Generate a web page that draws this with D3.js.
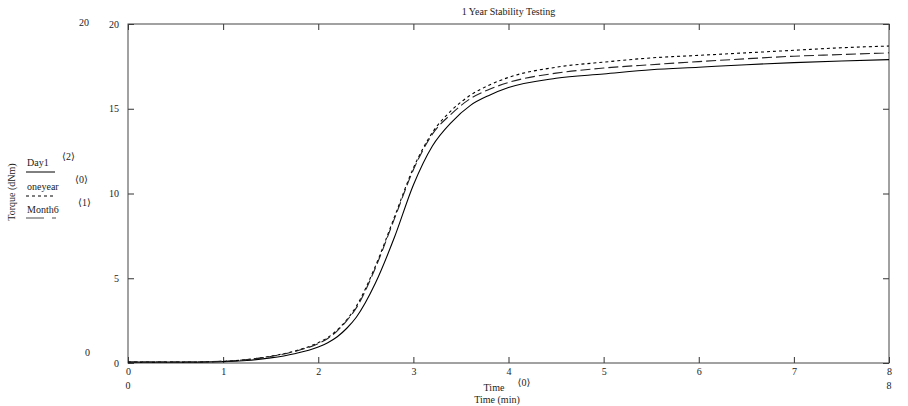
<!DOCTYPE html>
<html>
<head>
<meta charset="utf-8">
<script src="https://cdn.jsdelivr.net/npm/d3@7"></script>
<style>
  body { margin: 0; background: #fff; }
  svg text { font-family: "Liberation Serif", "DejaVu Serif", serif; font-size: 10px; fill: #222; }
</style>
</head>
<body>
<div id="chart"></div>
<script>
// time in minutes
var time = [0, 0.5, 1, 1.25, 1.5, 1.75, 2, 2.1, 2.2, 2.3, 2.4, 2.6, 2.8, 3, 3.2, 3.4, 3.6, 3.8, 4, 4.5, 5, 5.5, 6, 6.5, 7, 7.5, 8];
// torque in dNm
var day1    = [0.05, 0.05, 0.08, 0.15, 0.3, 0.55, 0.95, 1.2, 1.55, 2.05, 2.7, 4.7, 7.4, 10.5, 12.8, 14.2, 15.2, 15.8, 16.25, 16.8, 17.05, 17.3, 17.45, 17.6, 17.72, 17.82, 17.9];
var oneyear = [0.05, 0.05, 0.1, 0.2, 0.4, 0.7, 1.2, 1.5, 1.95, 2.55, 3.35, 5.7, 8.6, 11.5, 13.6, 14.9, 15.8, 16.4, 16.85, 17.45, 17.75, 18.0, 18.15, 18.3, 18.45, 18.6, 18.7];
var month6  = [0.05, 0.05, 0.1, 0.2, 0.38, 0.68, 1.15, 1.45, 1.9, 2.5, 3.25, 5.6, 8.5, 11.4, 13.5, 14.7, 15.6, 16.15, 16.55, 17.1, 17.4, 17.6, 17.78, 17.95, 18.1, 18.2, 18.3];
var xTicks = [0, 1, 2, 3, 4, 5, 6, 7, 8];
var yTicks = [0, 5, 10, 15, 20];

var width = 908, height = 406;
var plotLeft = 128, plotRight = 889, plotTop = 24, plotBottom = 363;

var svg = d3.select("#chart").append("svg")
  .attr("width", width)
  .attr("height", height);

var x = d3.scaleLinear().domain([0, 8]).range([plotLeft, plotRight]);
var y = d3.scaleLinear().domain([0, 20]).range([plotBottom, plotTop]);

// axes with inward ticks
var gx = svg.append("g")
  .attr("transform", "translate(0," + plotBottom + ")")
  .call(d3.axisBottom(x).tickValues(xTicks).tickSizeInner(-6).tickSizeOuter(0).tickPadding(5).tickFormat(d3.format("d")));
var gxt = svg.append("g")
  .attr("transform", "translate(0," + plotTop + ")")
  .call(d3.axisTop(x).tickValues(xTicks).tickSizeInner(-6).tickSizeOuter(0).tickFormat(""));
var gy = svg.append("g")
  .attr("transform", "translate(" + plotLeft + ",0)")
  .call(d3.axisLeft(y).tickValues(yTicks).tickSizeInner(-6).tickSizeOuter(0).tickPadding(9).tickFormat(d3.format("d")));
var gyr = svg.append("g")
  .attr("transform", "translate(" + plotRight + ",0)")
  .call(d3.axisRight(y).tickValues(yTicks).tickSizeInner(-6).tickSizeOuter(0).tickFormat(""));

[gx, gxt, gy, gyr].forEach(function(g){
  g.attr("font-family", null).attr("font-size", null);
  g.select(".domain").remove();
  g.selectAll(".tick line").attr("stroke", "#333");
  g.selectAll("text").attr("fill", "#222");
});

// frame
svg.append("rect")
  .attr("x", plotLeft).attr("y", plotTop)
  .attr("width", plotRight - plotLeft).attr("height", plotBottom - plotTop)
  .attr("fill", "none")
  .attr("stroke", "#444")
  .attr("stroke-width", 1);

// series
var series = [
  {name: "Day1", values: day1, dash: null, color: "#000"},
  {name: "oneyear", values: oneyear, dash: "3,3", color: "#000"},
  {name: "Month6", values: month6, dash: "10,4", color: "#222"}
];

var line = d3.line()
  .x(function(d){ return x(d[0]); })
  .y(function(d){ return y(d[1]); })
  .curve(d3.curveMonotoneX);

series.forEach(function(s){
  svg.append("path")
    .datum(time.map(function(t, i){ return [t, s.values[i]]; }))
    .attr("d", line)
    .attr("fill", "none")
    .attr("stroke", s.color)
    .attr("stroke-width", 1.1)
    .attr("stroke-dasharray", s.dash);
});

// title
svg.append("text")
  .attr("x", (plotLeft + plotRight) / 2).attr("y", 15)
  .attr("text-anchor", "middle")
  .text("1 Year Stability Testing");

// axis limit labels
svg.append("text").attr("x", 89).attr("y", 26).attr("text-anchor", "end").text("20");
svg.append("text").attr("x", 90).attr("y", 356).attr("text-anchor", "end").text("0");
svg.append("text").attr("x", plotLeft).attr("y", 389).attr("text-anchor", "middle").text("0");
svg.append("text").attr("x", plotRight).attr("y", 389).attr("text-anchor", "middle").text("8");

// axis titles
svg.append("text").attr("x", 494).attr("y", 391).attr("text-anchor", "middle").text("Time");
svg.append("text").attr("x", 524).attr("y", 386).attr("text-anchor", "middle").text("\u27e80\u27e9");
svg.append("text").attr("x", 497).attr("y", 403).attr("text-anchor", "middle").text("Time (min)");
svg.append("text")
  .attr("transform", "translate(15,192) rotate(-90)")
  .attr("text-anchor", "middle")
  .text("Torque (dNm)");

// legend
var legend = svg.append("g");
legend.append("text").attr("x", 27).attr("y", 166).text("Day1");
legend.append("line").attr("x1", 26).attr("x2", 55).attr("y1", 172).attr("y2", 172).attr("stroke", "#000");
legend.append("text").attr("x", 62).attr("y", 160).text("\u27e82\u27e9");

legend.append("text").attr("x", 27).attr("y", 190).text("oneyear");
legend.append("line").attr("x1", 26).attr("x2", 56).attr("y1", 196).attr("y2", 196)
  .attr("stroke", "#000").attr("stroke-dasharray", "3,3");
legend.append("text").attr("x", 75).attr("y", 183).text("\u27e80\u27e9");

legend.append("text").attr("x", 27).attr("y", 213).text("Month6");
legend.append("line").attr("x1", 26).attr("x2", 56).attr("y1", 218).attr("y2", 218)
  .attr("stroke", "#888").attr("stroke-width", 1.5).attr("stroke-dasharray", "18,8");
legend.append("text").attr("x", 78).attr("y", 206).text("\u27e81\u27e9");
</script>
</body>
</html>
